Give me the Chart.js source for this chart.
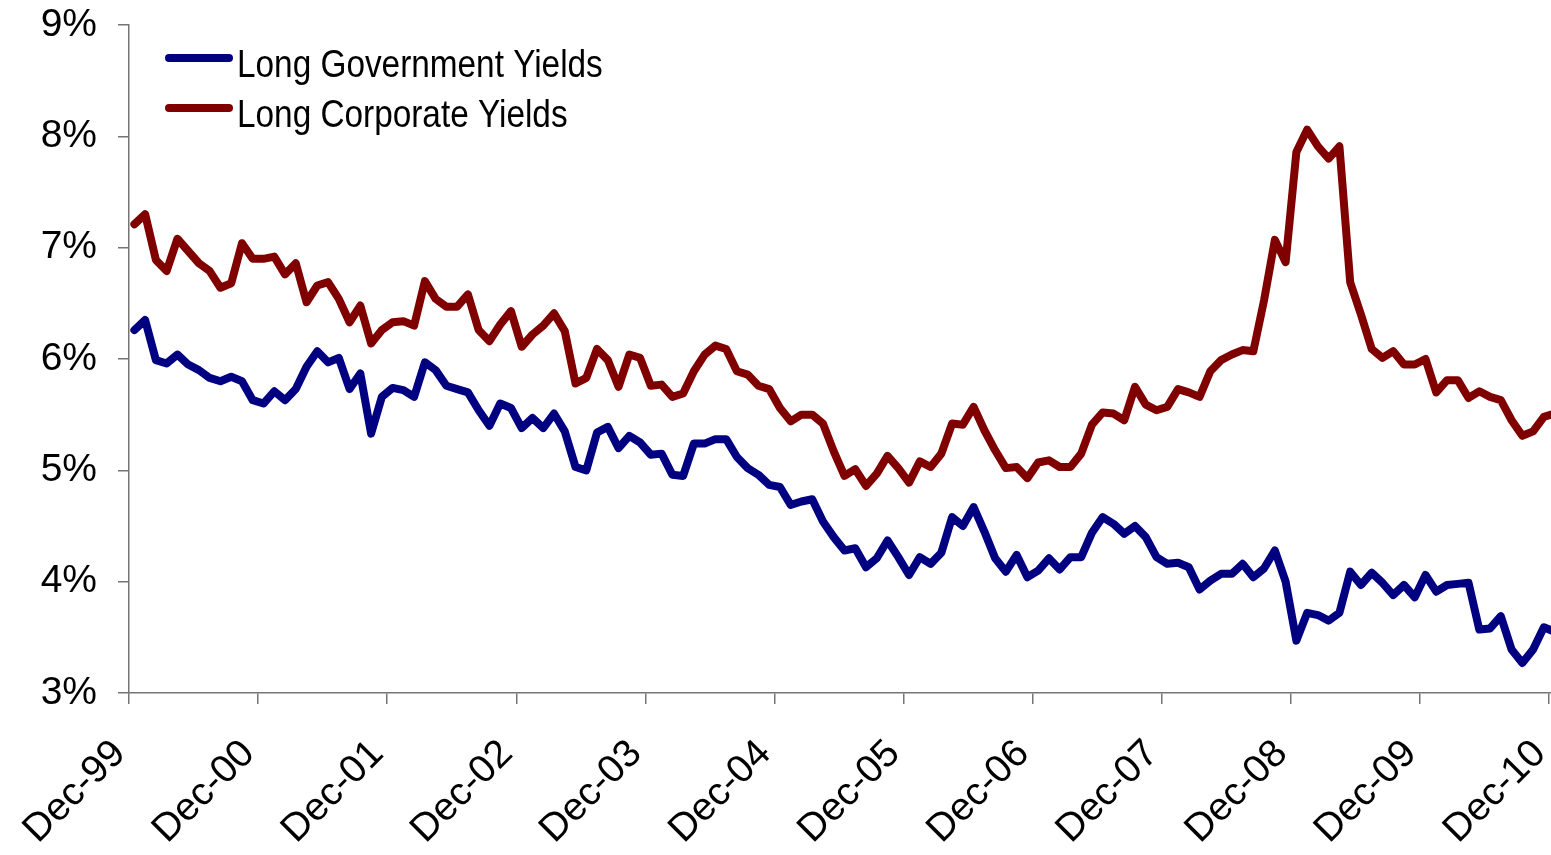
<!DOCTYPE html>
<html>
<head>
<meta charset="utf-8">
<script src="https://cdn.jsdelivr.net/npm/chart.js@4.4.1/dist/chart.umd.min.js"></script>
<style>
  html, body { margin: 0; padding: 0; background: #fff; overflow: hidden; width: 1551px; height: 855px; }
  #wrap { position: absolute; left: 0; top: 0; width: 1560px; height: 855px; }
</style>
</head>
<body>
<div id="wrap"><canvas id="c"></canvas></div>
<script>
// ---- Data ----
const seriesNames = ['Long Government Yields', 'Long Corporate Yields'];
const seriesColors = ['#000080', '#800000'];

const startYear = 1999; // first category is Dec-99
const monthNames = ['Jan','Feb','Mar','Apr','May','Jun','Jul','Aug','Sep','Oct','Nov','Dec'];

const govYields = [
  6.26, 6.35, 5.99, 5.96, 6.04, 5.95, 5.90, 5.83, 5.80, 5.84, 5.80, 5.63,
  5.60, 5.71, 5.63, 5.73, 5.93, 6.07, 5.97, 6.01, 5.73, 5.87, 5.33, 5.66,
  5.74, 5.72, 5.66, 5.97, 5.90, 5.76, 5.73, 5.70, 5.54, 5.40, 5.60, 5.56,
  5.38, 5.47, 5.38, 5.51, 5.35, 5.03, 5.00, 5.34, 5.39, 5.20, 5.31, 5.25,
  5.14, 5.15, 4.96, 4.95, 5.24, 5.24, 5.28, 5.28, 5.12, 5.02, 4.96, 4.87,
  4.85, 4.69, 4.72, 4.74, 4.54, 4.40, 4.28, 4.30, 4.13, 4.21, 4.37, 4.22,
  4.06, 4.22, 4.16, 4.26, 4.58, 4.50, 4.67, 4.45, 4.21, 4.09, 4.24, 4.04,
  4.10, 4.21, 4.11, 4.22, 4.22, 4.44, 4.58, 4.52, 4.43, 4.50, 4.40, 4.22,
  4.16, 4.17, 4.13, 3.93, 4.01, 4.07, 4.07, 4.16, 4.04, 4.12, 4.28, 4.00,
  3.47, 3.72, 3.70, 3.65, 3.72, 4.09, 3.97, 4.08, 3.99, 3.88, 3.97, 3.86,
  4.06, 3.91, 3.97, 3.98, 3.99, 3.57, 3.58, 3.69, 3.39, 3.27, 3.39, 3.59,
  3.55
];

const corpYields = [
  7.21, 7.30, 6.89, 6.79, 7.08, 6.97, 6.86, 6.79, 6.64, 6.68, 7.04, 6.90,
  6.90, 6.92, 6.76, 6.86, 6.51, 6.66, 6.69, 6.54, 6.33, 6.48, 6.14, 6.26,
  6.33, 6.34, 6.30, 6.70, 6.54, 6.47, 6.47, 6.58, 6.26, 6.16, 6.31, 6.43,
  6.11, 6.22, 6.30, 6.41, 6.25, 5.78, 5.83, 6.09, 5.99, 5.75, 6.04, 6.01,
  5.76, 5.77, 5.66, 5.69, 5.89, 6.04, 6.12, 6.09, 5.89, 5.86, 5.76, 5.73,
  5.56, 5.44, 5.50, 5.50, 5.42, 5.17, 4.95, 5.01, 4.86, 4.97, 5.13, 5.02,
  4.89, 5.08, 5.03, 5.15, 5.42, 5.41, 5.57, 5.36, 5.18, 5.02, 5.03, 4.93,
  5.07, 5.09, 5.03, 5.03, 5.15, 5.41, 5.52, 5.51, 5.45, 5.75, 5.59, 5.54,
  5.57, 5.73, 5.70, 5.66, 5.89, 5.99, 6.04, 6.08, 6.07, 6.53, 7.07, 6.87,
  7.86, 8.06, 7.91, 7.80, 7.91, 6.69, 6.40, 6.09, 6.01, 6.07, 5.95, 5.95,
  6.00, 5.70, 5.81, 5.81, 5.65, 5.71, 5.66, 5.63, 5.45, 5.31, 5.35, 5.48,
  5.51
];

const yTicks = [3, 4, 5, 6, 7, 8, 9];

// month categories: Dec-99 ... Dec-10
const categories = govYields.map((_, i) => {
  const m = (11 + i) % 12;
  const y = startYear + Math.floor((11 + i) / 12);
  return monthNames[m] + '-' + String(y % 100).padStart(2, '0');
});

// ---- Styles ----
const FONT_FAMILY = "'Liberation Sans', Arial, sans-serif";
const axisColor = '#757575';

const legendPlugin = {
  id: 'customLegend',
  afterDraw(chart) {
    const ctx = chart.ctx;
    ctx.save();
    chart.data.datasets.forEach((ds, k) => {
      const yLine = 58 + k * 50;
      ctx.strokeStyle = ds.borderColor;
      ctx.lineWidth = 8;
      ctx.lineCap = 'round';
      ctx.beginPath();
      ctx.moveTo(169, yLine);
      ctx.lineTo(229, yLine);
      ctx.stroke();
      ctx.save();
      ctx.translate(237, 77 + k * 50);
      ctx.scale(0.855, 1);
      ctx.fillStyle = '#000';
      ctx.font = "39px " + FONT_FAMILY;
      ctx.textBaseline = 'alphabetic';
      ctx.textAlign = 'left';
      ctx.fillText(ds.label, 0, 0);
      ctx.restore();
    });
    ctx.restore();
  }
};

new Chart(document.getElementById('c'), {
  type: 'line',
  data: {
    labels: categories,
    datasets: [
      { label: seriesNames[0], data: govYields, borderColor: seriesColors[0], backgroundColor: seriesColors[0] },
      { label: seriesNames[1], data: corpYields, borderColor: seriesColors[1], backgroundColor: seriesColors[1] }
    ]
  },
  options: {
    responsive: true,
    maintainAspectRatio: false,
    animation: false,
    devicePixelRatio: 1,
    layout: { padding: { top: 25, left: 0, right: 0, bottom: 0 } },
    elements: {
      line: { borderWidth: 8, tension: 0, borderJoinStyle: 'round', borderCapStyle: 'round' },
      point: { radius: 0, hoverRadius: 0 }
    },
    plugins: {
      legend: { display: false },
      tooltip: { enabled: false },
      title: { display: false }
    },
    scales: {
      x: {
        type: 'category',
        offset: true,
        grid: {
          offset: true,
          drawOnChartArea: false,
          drawTicks: true,
          tickLength: 11,
          lineWidth: 1.5,
          color: (c) => (c.index % 12 === 0 ? axisColor : 'rgba(0,0,0,0)')
        },
        border: { display: true, color: axisColor, width: 1.5 },
        ticks: {
          autoSkip: false,
          minRotation: 45,
          maxRotation: 45,
          padding: 27,
          labelOffset: -15,
          color: '#000',
          font: { family: FONT_FAMILY, size: 39 },
          callback: (v, i) => (i % 12 === 0 ? categories[i] : '')
        },
        afterFit(s) { s.height = 162; s.paddingLeft = 0; s.paddingRight = 0; }
      },
      y: {
        type: 'linear',
        min: 3,
        max: 9,
        grid: {
          drawOnChartArea: false,
          drawTicks: true,
          tickLength: 11,
          lineWidth: 1.5,
          color: axisColor
        },
        border: { display: true, color: axisColor, width: 1.5 },
        afterBuildTicks(s) { s.ticks = yTicks.map(v => ({ value: v })); },
        ticks: {
          padding: 21,
          color: '#000',
          font: { family: FONT_FAMILY, size: 39 },
          callback: (v) => v + '%'
        },
        afterFit(s) { s.width = 129; s.paddingTop = 0; s.paddingBottom = 0; }
      }
    }
  },
  plugins: [legendPlugin]
});
</script>
</body>
</html>
